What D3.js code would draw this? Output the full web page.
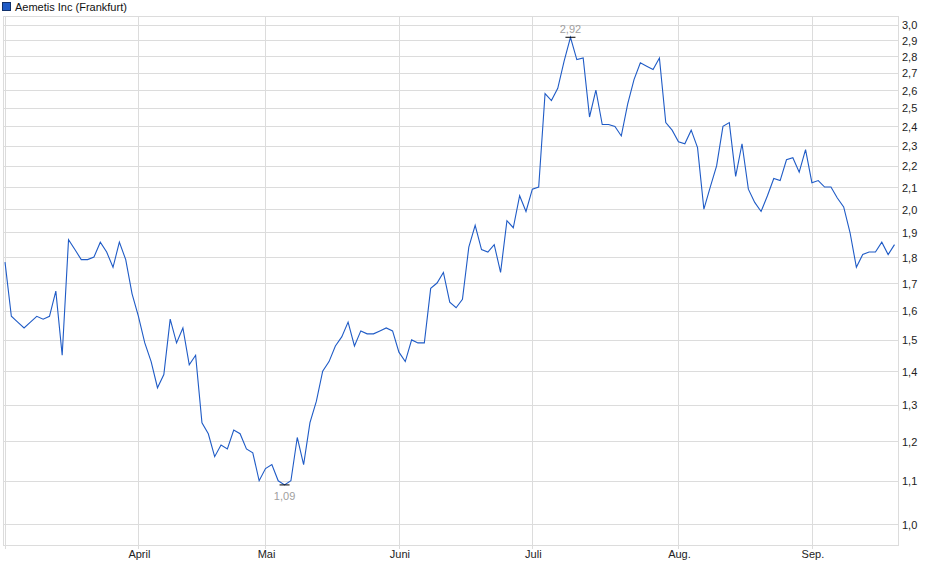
<!DOCTYPE html>
<html>
<head>
<meta charset="utf-8">
<script src="https://cdn.jsdelivr.net/npm/d3@7"></script>
<style>
  body { margin: 0; background: #fff; }
  svg text { font-family: "Liberation Sans", Arial, sans-serif; }
</style>
</head>
<body>
<svg id="chart" width="940" height="579"></svg>
<script>
// series name for the legend
const SERIES_NAME = "Aemetis Inc (Frankfurt)";

// closing prices, one per trading day
const PRICES = [
    1.78, 1.58, 1.56, 1.54, 1.56, 1.58, 1.57, 1.58, 1.67, 1.45,
    1.87, 1.83, 1.79, 1.79, 1.80, 1.86, 1.82, 1.76, 1.86, 1.79,
    1.66, 1.58, 1.49, 1.43, 1.35, 1.39, 1.57, 1.49, 1.54, 1.42,
    1.45, 1.25, 1.22, 1.16, 1.19, 1.18, 1.23, 1.22, 1.18, 1.17,
    1.10, 1.13, 1.14, 1.10, 1.09, 1.10, 1.21, 1.14, 1.25, 1.31,
    1.40, 1.43, 1.48, 1.51, 1.56, 1.48, 1.53, 1.52, 1.52, 1.53,
    1.54, 1.53, 1.46, 1.43, 1.50, 1.49, 1.49, 1.68, 1.70, 1.74,
    1.63, 1.61, 1.64, 1.84, 1.93, 1.83, 1.82, 1.85, 1.74, 1.95,
    1.92, 2.06, 1.99, 2.09, 2.10, 2.58, 2.54, 2.61, 2.77, 2.92,
    2.78, 2.79, 2.45, 2.60, 2.41, 2.41, 2.40, 2.35, 2.52, 2.66,
    2.76, 2.74, 2.72, 2.79, 2.42, 2.38, 2.32, 2.31, 2.38, 2.29,
    2.00, 2.10, 2.20, 2.40, 2.42, 2.15, 2.31, 2.09, 2.03, 1.99,
    2.06, 2.14, 2.13, 2.23, 2.24, 2.17, 2.28, 2.12, 2.13, 2.10,
    2.10, 2.05, 2.01, 1.90, 1.76, 1.81, 1.82, 1.82, 1.86, 1.81,
    1.85
];

// month starts (index into PRICES) and their labels
const MONTH_INDEX = [0, 21, 41, 62, 83, 106, 127];
const MONTH_LABELS = ["", "April", "Mai", "Juni", "Juli", "Aug.", "Sep."];

// y axis ticks
const Y_TICKS = [1.0, 1.1, 1.2, 1.3, 1.4, 1.5, 1.6, 1.7, 1.8, 1.9,
                 2.0, 2.1, 2.2, 2.3, 2.4, 2.5, 2.6, 2.7, 2.8, 2.9, 3.0];

const PLOT = {left: 3, right: 898, top: 16, bottom: 545};

const svg = d3.select("#chart");

const xScale = d3.scaleLinear()
    .domain([0, PRICES.length - 1])
    .range([5, 894.5]);

const yScale = d3.scaleLog()
    .domain([0.955, 3.06])
    .range([PLOT.bottom, PLOT.top]);

const fmt = v => d3.format(".1f")(v).replace(".", ",");
const fmt2 = v => d3.format(".2f")(v).replace(".", ",");

// horizontal grid lines
svg.append("g")
    .selectAll("line")
    .data(Y_TICKS)
    .enter()
    .append("line")
    .attr("x1", PLOT.left)
    .attr("x2", PLOT.right)
    .attr("y1", d => Math.round(yScale(d)) + 0.5)
    .attr("y2", d => Math.round(yScale(d)) + 0.5)
    .style("stroke", "#dcdcdc")
    .style("stroke-width", 1);

// vertical grid lines at month starts
svg.append("g")
    .selectAll("line")
    .data(MONTH_INDEX)
    .enter()
    .append("line")
    .attr("x1", d => Math.round(xScale(d)) + 0.5)
    .attr("x2", d => Math.round(xScale(d)) + 0.5)
    .attr("y1", PLOT.top)
    .attr("y2", PLOT.bottom + 4)
    .style("stroke", "#dcdcdc")
    .style("stroke-width", 1);

// plot frame
svg.append("rect")
    .attr("x", PLOT.left + 0.5)
    .attr("y", PLOT.top + 0.5)
    .attr("width", PLOT.right - PLOT.left)
    .attr("height", PLOT.bottom - PLOT.top)
    .style("fill", "none")
    .style("stroke", "#dcdcdc");

// y axis labels on the right
svg.append("g")
    .selectAll("text")
    .data(Y_TICKS)
    .enter()
    .append("text")
    .attr("x", 902)
    .attr("y", d => yScale(d) + 4.5)
    .style("font-size", "11px")
    .style("fill", "#222")
    .text(d => fmt(d));

// month labels
svg.append("g")
    .selectAll("text")
    .data(MONTH_INDEX)
    .enter()
    .append("text")
    .attr("x", d => xScale(d) + 1)
    .attr("y", 558)
    .attr("text-anchor", "middle")
    .style("font-size", "11px")
    .style("fill", "#222")
    .text((d, i) => MONTH_LABELS[i]);

// price line
const line = d3.line()
    .x((d, i) => xScale(i))
    .y(d => yScale(d));

svg.append("path")
    .datum(PRICES)
    .attr("d", line)
    .style("fill", "none")
    .style("stroke", "#1f5bc6")
    .style("stroke-width", 1.1);

// high / low markers
const maxIdx = d3.maxIndex(PRICES);
const minIdx = d3.minIndex(PRICES);
const marks = [
    {i: maxIdx, v: PRICES[maxIdx], dy: -4},
    {i: minIdx, v: PRICES[minIdx], dy: 15}
];

svg.append("g")
    .selectAll("line")
    .data(marks)
    .enter()
    .append("line")
    .attr("x1", d => xScale(d.i) - 5)
    .attr("x2", d => xScale(d.i) + 5)
    .attr("y1", d => yScale(d.v))
    .attr("y2", d => yScale(d.v))
    .style("stroke", "#000")
    .style("stroke-width", 1);

svg.append("g")
    .selectAll("text")
    .data(marks)
    .enter()
    .append("text")
    .attr("x", d => xScale(d.i))
    .attr("y", d => yScale(d.v) + d.dy)
    .attr("text-anchor", "middle")
    .style("font-size", "11px")
    .style("fill", "#a0a0a0")
    .text(d => fmt2(d.v));

// legend
svg.append("rect")
    .attr("x", 2.5)
    .attr("y", 2.5)
    .attr("width", 8)
    .attr("height", 8)
    .style("fill", "#1f5bc6")
    .style("stroke", "#10306a");

svg.append("text")
    .attr("x", 15)
    .attr("y", 11)
    .style("font-size", "11px")
    .style("fill", "#111")
    .text(SERIES_NAME);
</script>
</body>
</html>
